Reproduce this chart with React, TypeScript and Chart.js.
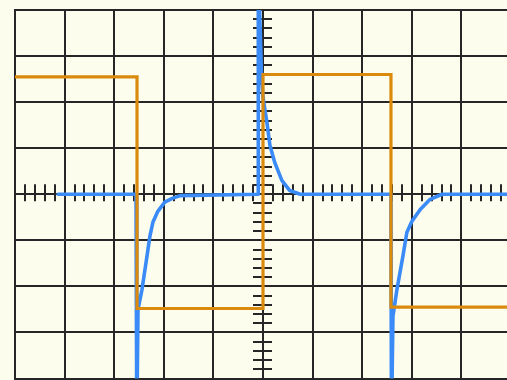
import React, { useEffect, useRef } from "react";
import { Chart, registerables } from "chart.js";

Chart.register(...registerables);

// Screen in divisions: 10 across (-5..5), 8 up (-4..4)
const xDivisions = [-5, 5];
const yDivisions = [-4, 4];
const minorTickStep = 0.2;

// Square wave (input) – orange trace
const squareX = [-5, -2.54, -2.54, 0, 0, 2.58, 2.58, 5];
const squareY = [2.55, 2.55, -2.48, -2.48, 2.6, 2.6, -2.45, -2.45];

// Differentiated output – blue trace
const pulseX = [
  -4.13, -2.56, -2.545, -2.52, -2.44, -2.34, -2.28, -2.22, -2.12, -1.98, -1.83, -1.67,
  -0.1, -0.1, -0.09, -0.03, 0, 0.08, 0.14, 0.24, 0.38, 0.54, 0.75,
  2.58, 2.59, 2.62, 2.7, 2.82, 2.9, 3.0, 3.17, 3.37, 3.61, 5,
];
const pulseY = [
  0, 0, -5, -2.5, -2.07, -1.35, -0.91, -0.61, -0.37, -0.17, -0.09, -0.03,
  0, 5, 5, 2.55, 2.1, 1.55, 1.06, 0.68, 0.3, 0.08, 0,
  0, -5, -2.65, -2.07, -1.35, -0.83, -0.59, -0.33, -0.11, 0, 0,
];

const CREAM = "#fdfdee";
const GRID = "#262626";
const ORANGE = "#da8a0c";
const BLUE = "#3a8bf7";

const toPoints = (xs: number[], ys: number[]) => xs.map((x, i) => ({ x, y: ys[i] }));

const backgroundPlugin = {
  id: "cream",
  beforeDraw(chart: any) {
    const { ctx, width, height } = chart;
    ctx.save();
    ctx.fillStyle = CREAM;
    ctx.fillRect(0, 0, width, height);
    ctx.restore();
  },
};

const crosshairTicks = {
  id: "crosshairTicks",
  beforeDatasetsDraw(chart: any) {
    const { ctx } = chart;
    const xs = chart.scales.x;
    const ys = chart.scales.y;
    const x0 = xs.getPixelForValue(0);
    const y0 = ys.getPixelForValue(0);
    ctx.save();
    ctx.strokeStyle = GRID;
    ctx.lineWidth = 2;
    ctx.beginPath();
    const nx = Math.round((xDivisions[1] - xDivisions[0]) / minorTickStep);
    for (let i = 0; i <= nx; i++) {
      const v = xDivisions[0] + i * minorTickStep;
      const px = Math.round(xs.getPixelForValue(v));
      ctx.moveTo(px, y0 - 10);
      ctx.lineTo(px, y0 + 7);
    }
    const ny = Math.round((yDivisions[1] - yDivisions[0]) / minorTickStep);
    for (let i = 0; i <= ny; i++) {
      const v = yDivisions[0] + i * minorTickStep;
      const py = Math.round(ys.getPixelForValue(v));
      ctx.moveTo(x0 - 10, py);
      ctx.lineTo(x0 + 9, py);
    }
    ctx.stroke();
    ctx.restore();
  },
};

export default function App() {
  const ref = useRef<HTMLCanvasElement | null>(null);

  useEffect(() => {
    document.body.style.background = CREAM;
    const canvas = ref.current;
    if (!canvas) return;
    const chart = new Chart(canvas, {
      type: "line",
      data: {
        datasets: [
          {
            label: "Input",
            data: toPoints(squareX, squareY),
            borderColor: ORANGE,
            borderWidth: 3.2,
            pointRadius: 0,
            tension: 0,
            order: 0,
            borderJoinStyle: "miter",
          },
          {
            label: "Output",
            data: toPoints(pulseX, pulseY),
            borderColor: BLUE,
            borderWidth: 3.6,
            pointRadius: 0,
            tension: 0,
            order: 1,
            borderJoinStyle: "round",
            borderCapStyle: "round",
          },
        ],
      },
      options: {
        animation: false,
        responsive: false,
        devicePixelRatio: 1,
        events: [],
        layout: { padding: { left: 15, top: 10, right: 9, bottom: 11.5 } },
        plugins: { legend: { display: false }, tooltip: { enabled: false } },
        scales: {
          x: {
            type: "linear",
            min: xDivisions[0],
            max: xDivisions[1],
            ticks: { display: false, stepSize: 1 },
            grid: { color: GRID, lineWidth: 2, drawTicks: false },
            border: { display: true, color: GRID, width: 2 },
          },
          y: {
            type: "linear",
            min: yDivisions[0],
            max: yDivisions[1],
            ticks: { display: false, stepSize: 1 },
            grid: { color: GRID, lineWidth: 2, drawTicks: false },
            border: { display: true, color: GRID, width: 2 },
          },
        },
      } as any,
      plugins: [backgroundPlugin, crosshairTicks],
    });
    return () => chart.destroy();
  }, []);

  return (
    <div style={{ position: "fixed", left: 0, top: 0, width: 520, height: 390, overflow: "hidden" }}>
      <canvas ref={ref} width={520} height={390} style={{ display: "block" }} />
    </div>
  );
}
